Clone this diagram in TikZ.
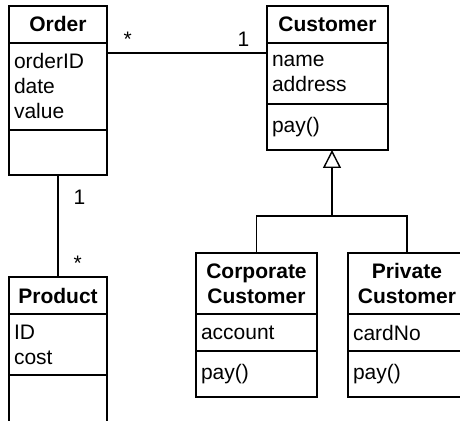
\documentclass[tikz,border=0pt]{standalone}
\usepackage{fontspec}
\setmainfont{Liberation Sans}
\usetikzlibrary{arrows.meta}
\usetikzlibrary{positioning}

\tikzset{
	box/.style={draw,line width=1pt,outer sep=0pt,inner xsep=2.5pt,inner ysep=0pt,font=\fontsize{10.5}{12.5}\selectfont},
	classname/.style={box,align=center,font=\fontsize{10.5}{12.5}\selectfont\bfseries},
	members/.style={box,align=left},
	narrow/.style={text width=44pt},
	wide/.style={text width=55.5pt},
	mult/.style={inner sep=0pt,font=\fontsize{10.5}{12.5}\selectfont},
}

\begin{document}
\begin{tikzpicture}[x=0.5pt,y=-0.5pt,line width=0.7pt,>/.tip={Triangle[open,length=9pt,width=9pt]}]
	\path[use as bounding box,clip] (0,0) rectangle (460,421);

	\draw (58,6) node (order) [classname,narrow,anchor=north,minimum height=18.5pt] {Order};
	\node (orderattr) [members,narrow,below=0pt of order,minimum height=43.5pt] {orderID\\date\\value};
	\node (orderops) [members,narrow,below=0pt of orderattr,minimum height=22.5pt] {};

	\draw (327.5,6) node (cust) [classname,wide,anchor=north,minimum height=18.5pt] {Customer};
	\node (custattr) [members,wide,below=0pt of cust,minimum height=30.5pt] {name\\address};
	\node (custops) [members,wide,below=0pt of custattr,minimum height=23pt] {pay()};

	\draw (58,277) node (prod) [classname,narrow,anchor=north,minimum height=18.5pt] {Product};
	\node (prodattr) [members,narrow,below=0pt of prod,minimum height=30.5pt] {ID\\cost};
	\node (prodops) [members,narrow,below=0pt of prodattr,minimum height=25pt] {};

	\draw (256.5,253) node (corp) [classname,wide,anchor=north,minimum height=30.5pt] {Corporate\\Customer};
	\node (corpattr) [members,wide,below=0pt of corp,minimum height=18.5pt] {account};
	\node (corpops) [members,wide,below=0pt of corpattr,minimum height=23pt] {pay()};

	\draw (407,253) node (priv) [classname,text width=54pt,anchor=north,minimum height=30.5pt] {Private\\Customer};
	\node (privattr) [members,text width=54pt,below=0pt of priv,minimum height=18.5pt] {cardNo};
	\node (privops) [members,text width=54pt,below=0pt of privattr,minimum height=23pt] {pay()};

	\draw ([yshift=-5pt]orderattr.north east) -- node [mult,pos=0,anchor=base west,xshift=8pt,yshift=3pt] {*} node [mult,pos=1,anchor=base east,xshift=-8.5pt,yshift=3pt] {1} ([yshift=-5pt]custattr.north west);
	\draw (orderops.south) -- node [mult,pos=0,anchor=north west,xshift=7.5pt,yshift=-7pt] {1} node [mult,pos=1,anchor=base west,xshift=7.5pt,yshift=3pt] {*} (prod.north);

	\coordinate (fork) at ([xshift=2.25pt,yshift=-33pt]custops.south);
	\draw[->] (fork) -- ([xshift=2.25pt]custops.south);
	\draw (corp.north) |- (fork) -| (priv.north);
\end{tikzpicture}
\end{document}
